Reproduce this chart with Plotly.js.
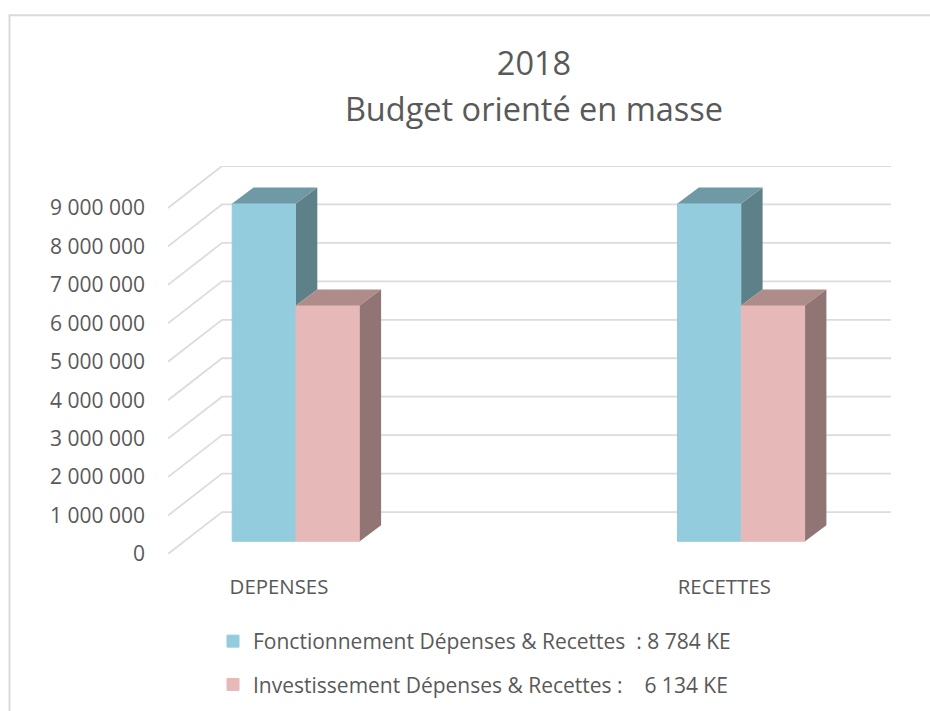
<!DOCTYPE html>
<html>
<head>
<meta charset="utf-8">
<script src="https://cdn.plot.ly/plotly-3.0.1.min.js"></script>
<style>html,body{margin:0;padding:0;background:#fff;overflow:hidden}</style>
</head>
<body>
<div id="chart" style="width:930px;height:711px"></div>
<script>
const categories = ['DEPENSES', 'RECETTES'];
const categoryPos = [0, 1];
const fonctionnement = [8784000, 8784000];
const investissement = [6134000, 6134000];
const seriesNames = [
  'Fonctionnement Dépenses & Recettes \u00a0: 8 784 KE',
  'Investissement Dépenses & Recettes : \u00a0\u00a0 6 134 KE'
];
const tickValues = [0, 1000000, 2000000, 3000000, 4000000, 5000000, 6000000, 7000000, 8000000, 9000000];
const tickLabels = ['0', '1 000 000', '2 000 000', '3 000 000', '4 000 000', '5 000 000', '6 000 000', '7 000 000', '8 000 000', '9 000 000'];

const W = 930, H = 711;
const mL = 168, mR = 39, mT = 165.5, mB = 157;
const pxX = 445.3, pxY = 38.5 / 1e6;
const cx0 = 296;
const xMin = (mL - cx0) / pxX, xMax = (W - mR - cx0) / pxX;
const yMax = (H - mB - mT) / pxY;
const barW = 63.8 / pxX;
const floor = 12.7 / pxY;
const barDX = 21.3 / pxX, barDY = 16 / pxY;
const wallDX = 54 / pxX, wallDY = 42 / pxY;
const labelShift = 17 / pxX;

const C = {blue:'#93CDDD', blueTop:'#7099A6', blueSide:'#5E8089', pink:'#E6B9B8', pinkTop:'#AD8C8A', pinkSide:'#917574', grid:'#DCDCDC', text:'#595959', frame:'#D9D9D9'};

function poly(segs, color) {
  const x = [], y = [];
  segs.forEach(s => { s.forEach(p => { x.push(p[0]); y.push(p[1]); }); x.push(null); y.push(null); });
  return {type:'scatter', mode:'lines', x, y, fill:'toself', fillcolor:color, line:{width:0, color}, hoverinfo:'skip', showlegend:false};
}
const topFace = (pos, off, v) => [[pos+off, floor+v], [pos+off+barW, floor+v], [pos+off+barW+barDX, floor+v+barDY], [pos+off+barDX, floor+v+barDY]];
const sideFace = (pos, off, v, low) => [[pos+off+barW, floor+low], [pos+off+barW, floor+v], [pos+off+barW+barDX, floor+v+barDY], [pos+off+barW+barDX, floor+low+barDY]];

const traces = [
  {type:'bar', name:seriesNames[0], x:categoryPos, y:fonctionnement, base:[floor,floor], width:barW, offset:-barW,
   marker:{color:C.blue, line:{color:C.blue, width:1}}, legendgroup:'a', hoverinfo:'y'},
  {type:'bar', name:seriesNames[1], x:categoryPos, y:investissement, base:[floor,floor], width:barW, offset:0,
   marker:{color:C.pink, line:{color:C.pink, width:1}}, legendgroup:'b', hoverinfo:'y'},
  poly(categoryPos.map((p,i)=>sideFace(p,-barW,fonctionnement[i],investissement[i])), C.blueSide),
  poly(categoryPos.map((p,i)=>topFace(p,-barW,fonctionnement[i])), C.blueTop),
  poly(categoryPos.map((p,i)=>topFace(p,0,investissement[i])), C.pinkTop),
  poly(categoryPos.map((p,i)=>sideFace(p,0,investissement[i],0)), C.pinkSide)
];

const shapes = tickValues.map(v => ({
  type:'path', layer:'below', xref:'x', yref:'y',
  path:`M${xMin},${v} L${xMin+wallDX},${v+wallDY} L${xMax},${v+wallDY}`,
  line:{color:C.grid, width:1.8}
}));
// chart-area frame (left and top edges), in paper fractions
const pw = W - mL - mR, ph = H - mT - mB;
const fx = p => (p - mL) / pw, fy = p => (H - mB - p) / ph;
shapes.push({type:'path', layer:'below', xref:'paper', yref:'paper',
  path:`M${fx(9.5)},${fy(H+5)} L${fx(9.5)},${fy(14.5)} L${fx(W+5)},${fy(14.5)}`,
  line:{color:C.frame, width:2}});

const layout = {
  width:W, height:H,
  margin:{l:mL, r:mR, t:mT, b:mB, pad:0, autoexpand:false},
  paper_bgcolor:'#fff', plot_bgcolor:'rgba(0,0,0,0)',
  font:{family:'"Open Sans", sans-serif', color:C.text, size:18},
  title:{text:'<span style="font-size:32.5px">2018</span><br><span style="font-size:32.5px">Budget orienté en masse</span>',
         font:{size:35.4, color:C.text},
         x:534/W, xanchor:'center', y:1-75/H, yanchor:'middle', yref:'container'},
  barmode:'overlay', showlegend:true,
  xaxis:{range:[xMin,xMax], tickmode:'array', tickvals:categoryPos.map(p=>p-labelShift), ticktext:categories, tickangle:0,
         showgrid:false, zeroline:false, showline:false, ticks:'', ticklabelstandoff:19, tickfont:{size:20.4}, automargin:false, fixedrange:true},
  yaxis:{range:[0,yMax], tickmode:'array', tickvals:tickValues, ticktext:tickLabels,
         showgrid:false, zeroline:false, showline:false, ticks:'', ticklabelstandoff:22, tickfont:{size:21}, automargin:false, fixedrange:true},
  legend:{xref:'container', yref:'container', x:213/W, xanchor:'left', y:1-621/H, yanchor:'top', orientation:'v', tracegroupgap:13,
          font:{size:21, color:C.text}, bgcolor:'rgba(0,0,0,0)', itemclick:false, itemdoubleclick:false},
  shapes
};
Plotly.newPlot('chart', traces, layout, {displayModeBar:false, responsive:false});
</script>
</body>
</html>
